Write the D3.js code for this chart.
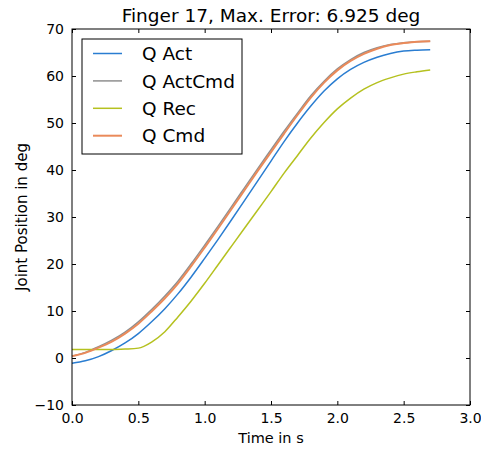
<!DOCTYPE html>
<html>
<head>
<meta charset="utf-8">
<script src="https://cdn.jsdelivr.net/npm/d3@7"></script>
<style>
body { margin: 0; background: #fff; }
text { font-family: "DejaVu Sans", sans-serif; fill: #000; }
</style>
</head>
<body>
<script>
var width = 481, height = 449;
var margin = {left: 72, right: 11, top: 29, bottom: 44};

// time in s
var time = [0.0, 0.1, 0.2, 0.3, 0.4, 0.5, 0.6, 0.7, 0.8, 0.9, 1.0, 1.1, 1.2, 1.3,
            1.4, 1.5, 1.6, 1.7, 1.8, 1.9, 2.0, 2.1, 2.2, 2.3, 2.4, 2.5, 2.6, 2.7];

var qAct = [-1.1, -0.6, 0.3, 1.6, 3.2, 5.2, 7.7, 10.5, 13.7, 17.3, 21.2, 25.2, 29.3, 33.5,
            37.7, 41.9, 46.1, 50.0, 53.6, 56.8, 59.4, 61.4, 62.9, 64.0, 64.8, 65.3, 65.5, 65.6];
var qActCmd = [0.4, 1.2, 2.4, 3.8, 5.5, 7.7, 10.3, 13.2, 16.4, 20.1, 24.0, 28.0, 32.1, 36.2,
            40.3, 44.3, 48.3, 52.1, 55.8, 58.9, 61.5, 63.5, 65.0, 66.0, 66.7, 67.1, 67.3, 67.4];
var qRec = [1.8, 1.8, 1.8, 1.8, 1.9, 2.1, 3.4, 5.6, 8.8, 12.2, 15.9, 19.8, 23.7, 27.6,
            31.5, 35.4, 39.4, 43.1, 46.8, 50.1, 53.0, 55.3, 57.2, 58.6, 59.6, 60.4, 60.9, 61.3];
var qCmd = [0.4, 1.1, 2.2, 3.5, 5.2, 7.3, 9.9, 12.7, 15.9, 19.6, 23.5, 27.5, 31.6, 35.7,
            39.8, 43.8, 47.8, 51.7, 55.4, 58.6, 61.2, 63.2, 64.7, 65.8, 66.6, 67.0, 67.3, 67.4];

var xTicks = [0.0, 0.5, 1.0, 1.5, 2.0, 2.5, 3.0];
var yTicks = [-10, 0, 10, 20, 30, 40, 50, 60, 70];

var series = [
  {name: "Q Act", values: qAct, color: "#2a7dd1", w: 1.5},
  {name: "Q ActCmd", values: qActCmd, color: "#8f8f8f", w: 1.5},
  {name: "Q Rec", values: qRec, color: "#b5c11f", w: 1.5},
  {name: "Q Cmd", values: qCmd, color: "#ea8a5a", w: 2}
];

var svg = d3.select("body")
.append("svg")
.attr("width", width)
.attr("height", height)
.attr("id","svg");

var x = d3.scaleLinear().domain([0, 3]).range([margin.left, width - margin.right]);
var y = d3.scaleLinear().domain([-10, 70]).range([height - margin.bottom, margin.top]);

var line = d3.line()
.x(function(d, i){ return x(time[i]); })
.y(function(d){ return y(d); })
.curve(d3.curveMonotoneX);

var plot = svg.append("g").attr("id","plot");

plot.selectAll(".series")
.data(series)
.enter().append("path")
.attr("class","series")
.attr("d", function(s){ return line(s.values); })
.attr("fill","none")
.attr("stroke", function(s){ return s.color; })
.attr("stroke-width", function(s){ return s.w; });

// axes, ticks pointing inward on all sides
var fmtX = d3.format(".1f");
var fmtY = function(d){ return d < 0 ? "\u2212" + Math.abs(d) : String(d); };

svg.append("g")
.attr("transform","translate(0," + y.range()[0] + ")")
.call(d3.axisBottom(x).tickValues(xTicks).tickFormat(fmtX).tickSizeInner(-4).tickSizeOuter(0).tickPadding(8))
.call(function(g){ g.select(".domain").remove(); g.selectAll("text").attr("font-size", 14).attr("font-family","DejaVu Sans"); });

svg.append("g")
.attr("transform","translate(0," + y.range()[1] + ")")
.call(d3.axisTop(x).tickValues(xTicks).tickFormat("").tickSizeInner(-4).tickSizeOuter(0))
.call(function(g){ g.select(".domain").remove(); });

svg.append("g")
.attr("transform","translate(" + x.range()[0] + ",0)")
.call(d3.axisLeft(y).tickValues(yTicks).tickFormat(fmtY).tickSizeInner(-4).tickSizeOuter(0).tickPadding(8))
.call(function(g){ g.select(".domain").remove(); g.selectAll("text").attr("font-size", 14).attr("font-family","DejaVu Sans"); });

svg.append("g")
.attr("transform","translate(" + x.range()[1] + ",0)")
.call(d3.axisRight(y).tickValues(yTicks).tickFormat("").tickSizeInner(-4).tickSizeOuter(0))
.call(function(g){ g.select(".domain").remove(); });

svg.append("rect")
.attr("x", x.range()[0])
.attr("y", y.range()[1])
.attr("width", x.range()[1] - x.range()[0])
.attr("height", y.range()[0] - y.range()[1])
.attr("fill","none")
.attr("stroke","#000")
.attr("stroke-width",1);

// title and labels
svg.append("text")
.attr("x", (x.range()[0] + x.range()[1]) / 2)
.attr("y", 22)
.attr("text-anchor","middle")
.attr("font-size", 18.5)
.text("Finger 17, Max. Error: 6.925 deg");

svg.append("text")
.attr("x", (x.range()[0] + x.range()[1]) / 2)
.attr("y", 443)
.attr("text-anchor","middle")
.attr("font-size", 14.5)
.text("Time in s");

svg.append("text")
.attr("transform","translate(27," + (y.range()[0] + y.range()[1]) / 2 + ") rotate(-90)")
.attr("text-anchor","middle")
.attr("font-size", 15)
.text("Joint Position in deg");

// legend
var legend = svg.append("g").attr("id","legend");
legend.append("rect")
.attr("x", 82).attr("y", 39)
.attr("width", 160).attr("height", 115)
.attr("fill","#fff")
.attr("stroke","#000")
.attr("stroke-width",1);

var rows = legend.selectAll(".row")
.data(series)
.enter().append("g")
.attr("class","row")
.attr("transform", function(s, i){ return "translate(0," + (53.5 + i * 27.4) + ")"; });

rows.append("line")
.attr("x1", 93).attr("x2", 122)
.attr("stroke", function(s){ return s.color; })
.attr("stroke-width", function(s){ return s.w; });

rows.append("text")
.attr("x", 142)
.attr("dy", "0.36em")
.attr("font-size", 18.5)
.text(function(s){ return s.name; });
</script>
</body>
</html>
